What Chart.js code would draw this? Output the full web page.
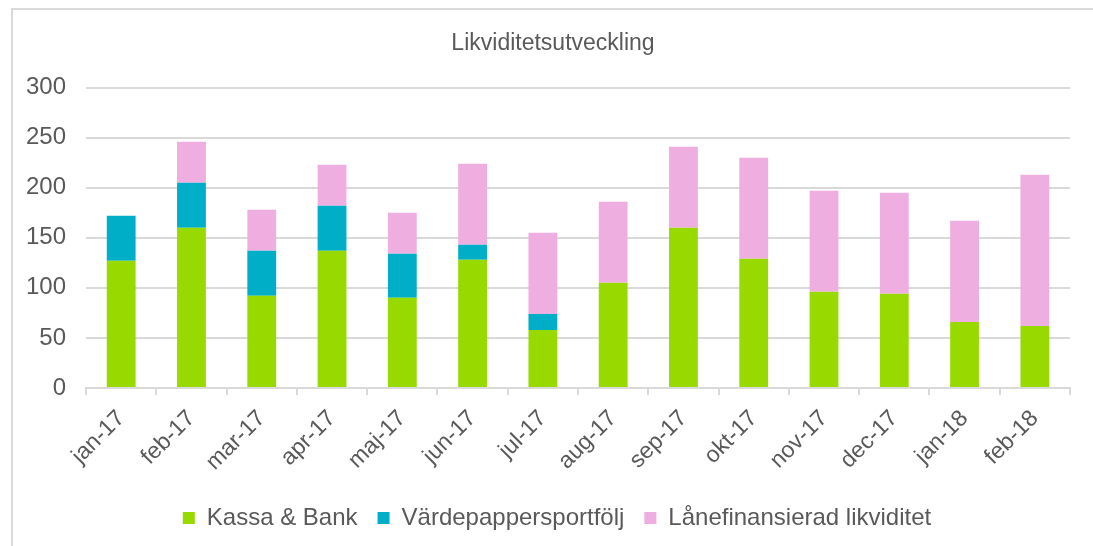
<!DOCTYPE html>
<html>
<head>
<meta charset="utf-8">
<script src="https://cdn.jsdelivr.net/npm/chart.js@4.4.1/dist/chart.umd.min.js"></script>
<style>
  html, body { margin: 0; padding: 0; background: #fff; overflow: hidden; }
  #frame { position: absolute; left: 11px; top: 8px; width: 1100px; height: 560px; border: 2px solid #d9d9d9; }
  #myChart { position: absolute; left: 0; top: 0; }
</style>
</head>
<body>
<div id="frame"></div>
<canvas id="myChart" width="1093" height="546"></canvas>
<script>
// datos del grafico
const meses = ['jan-17', 'feb-17', 'mar-17', 'apr-17', 'maj-17', 'jun-17', 'jul-17',
  'aug-17', 'sep-17', 'okt-17', 'nov-17', 'dec-17', 'jan-18', 'feb-18']
const kassaBank = [127, 160, 92, 137, 90, 128, 58, 105, 160, 129, 96, 94, 66, 62]
const vardepapper = [45, 45, 45, 45, 44, 15, 16, 0, 0, 0, 0, 0, 0, 0]
const lanefinansierad = [0, 41, 41, 41, 41, 81, 81, 81, 81, 101, 101, 101, 101, 151]
const yTicks = [0, 50, 100, 150, 200, 250, 300]

const gris = '#595959'
const linea = '#d9d9d9'
const fuente = 'Arial, "Liberation Sans", sans-serif'

// corre el titulo y la leyenda un poco a la derecha, como en el original
const correr = {
  id: 'correr',
  afterLayout(chart) {
    chart.titleBlock.left += 15
    chart.titleBlock.right += 15
    chart.legend.left += 19
    chart.legend.right += 19
  }
}

function grafico_barras() {
  const ctx = document.getElementById('myChart')

  new Chart(ctx, {
    type: 'bar',
    data: {
      labels: meses,
      datasets: [
        { label: 'Kassa & Bank', data: kassaBank, backgroundColor: '#98d900' },
        { label: 'Värdepappersportfölj', data: vardepapper, backgroundColor: '#00aec7' },
        { label: 'Lånefinansierad likviditet', data: lanefinansierad, backgroundColor: '#eeaee0' }
      ]
    },
    plugins: [correr],
    options: {
      responsive: false,
      devicePixelRatio: 1,
      animation: false,
      barPercentage: 0.41,
      categoryPercentage: 1,
      layout: { padding: { left: 6, right: 23, top: 0, bottom: 6 } },
      plugins: {
        title: {
          display: true,
          text: 'Likviditetsutveckling',
          color: gris,
          font: { family: fuente, size: 23, weight: 'normal' },
          padding: { top: 30, bottom: 30 }
        },
        legend: {
          position: 'bottom',
          labels: {
            color: gris,
            font: { family: fuente, size: 24 },
            boxWidth: 12,
            boxHeight: 12,
            padding: 20
          }
        },
        tooltip: { enabled: false }
      },
      scales: {
        x: {
          stacked: true,
          grid: { offset: true, drawOnChartArea: false, color: linea, lineWidth: 2, tickLength: 7 },
          border: { color: linea, width: 2 },
          ticks: { color: gris, font: { family: fuente, size: 23 }, minRotation: 45, maxRotation: 45, padding: 10 }
        },
        y: {
          stacked: true,
          min: 0,
          max: 300,
          afterBuildTicks: (axis) => { axis.ticks = yTicks.map(v => ({ value: v })) },
          grid: { color: linea, lineWidth: 2, drawTicks: false },
          border: { display: false },
          ticks: { color: gris, font: { family: fuente, size: 24 }, padding: 20 }
        }
      }
    }
  })
}

grafico_barras()
</script>
</body>
</html>
